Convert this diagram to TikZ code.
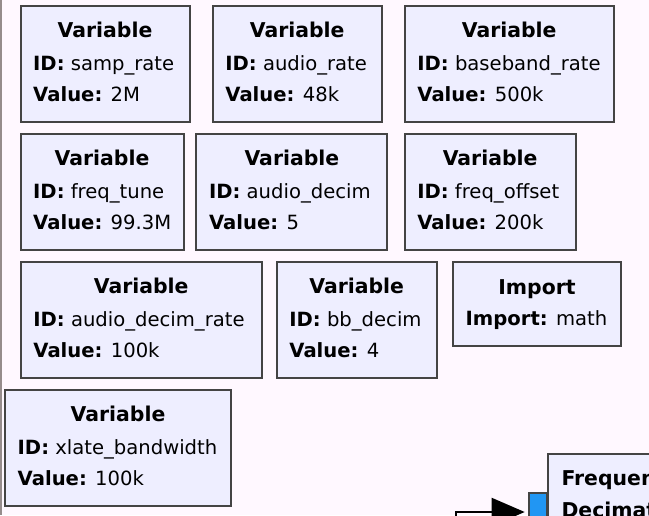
\documentclass[tikz,border=0pt]{standalone}
\usepackage{fontspec}
\setmainfont{DejaVu Sans}
\usetikzlibrary{arrows.meta}
\definecolor{canvas}{RGB}{255,248,255}
\definecolor{blockfill}{RGB}{238,238,255}
\definecolor{blockline}{RGB}{68,68,68}
\definecolor{portfill}{RGB}{33,150,243}
\definecolor{paneedge}{RGB}{150,140,140}

\begin{document}
\begin{tikzpicture}[x=1pt,y=-1pt]
    \tikzset{block/.style={draw=blockline,fill=blockfill,line width=2pt,anchor=north west,minimum height=116pt,inner sep=0pt,outer sep=0pt},
        title/.style={anchor=base,inner sep=0pt,font=\fontsize{20.4}{24}\selectfont\bfseries},
        param/.style={anchor=base west,inner sep=0pt,font=\fontsize{19.6}{24}\selectfont},
        wire/.style={line width=2pt,-{Triangle[length=33pt,width=28pt]},shorten >=4pt}}
    \fill[canvas] (0,0) rectangle (649,515);
    \useasboundingbox (0,0) rectangle (649,515);
    \draw[paneedge,line width=1.6pt] (0.8,0) -- (0.8,515);
    \node[block,minimum width=169pt] (samprate) at (20.5,5.7) {};
    \node[title] (samprate-t) at ([yshift=-32pt]samprate.north) {Variable};
    \node[param] (samprate-id) at ([xshift=12.5pt,yshift=-64.3pt]samprate.north west) {\textbf{ID:} samp\_rate};
    \node[param] (samprate-v) at ([xshift=12.5pt,yshift=-96pt]samprate.north west) {\textbf{Value:} 2M};
    \node[block,minimum width=169pt] (audiorate) at (212.7,5.7) {};
    \node[title] (audiorate-t) at ([yshift=-32pt]audiorate.north) {Variable};
    \node[param] (audiorate-id) at ([xshift=12.5pt,yshift=-64.3pt]audiorate.north west) {\textbf{ID:} audio\_rate};
    \node[param] (audiorate-v) at ([xshift=12.5pt,yshift=-96pt]audiorate.north west) {\textbf{Value:} 48k};
    \node[block,minimum width=209pt] (bbrate) at (404.7,5.7) {};
    \node[title] (bbrate-t) at ([yshift=-32pt]bbrate.north) {Variable};
    \node[param] (bbrate-id) at ([xshift=12.5pt,yshift=-64.3pt]bbrate.north west) {\textbf{ID:} baseband\_rate};
    \node[param] (bbrate-v) at ([xshift=12.5pt,yshift=-96pt]bbrate.north west) {\textbf{Value:} 500k};
    \node[block,minimum width=163pt] (freqtune) at (20.5,133.7) {};
    \node[title] (freqtune-t) at ([yshift=-32pt]freqtune.north) {Variable};
    \node[param] (freqtune-id) at ([xshift=12.5pt,yshift=-64.3pt]freqtune.north west) {\textbf{ID:} freq\_tune};
    \node[param] (freqtune-v) at ([xshift=12.5pt,yshift=-96pt]freqtune.north west) {\textbf{Value:} 99.3M};
    \node[block,minimum width=191pt] (audiodecim) at (196.4,133.7) {};
    \node[title] (audiodecim-t) at ([yshift=-32pt]audiodecim.north) {Variable};
    \node[param] (audiodecim-id) at ([xshift=12.5pt,yshift=-64.3pt]audiodecim.north west) {\textbf{ID:} audio\_decim};
    \node[param] (audiodecim-v) at ([xshift=12.5pt,yshift=-96pt]audiodecim.north west) {\textbf{Value:} 5};
    \node[block,minimum width=171pt] (freqoffset) at (404.6,133.7) {};
    \node[title] (freqoffset-t) at ([yshift=-32pt]freqoffset.north) {Variable};
    \node[param] (freqoffset-id) at ([xshift=12.5pt,yshift=-64.3pt]freqoffset.north west) {\textbf{ID:} freq\_offset};
    \node[param] (freqoffset-v) at ([xshift=12.5pt,yshift=-96pt]freqoffset.north west) {\textbf{Value:} 200k};
    \node[block,minimum width=241pt] (decimrate) at (20.7,261.7) {};
    \node[title] (decimrate-t) at ([yshift=-32pt]decimrate.north) {Variable};
    \node[param] (decimrate-id) at ([xshift=12.5pt,yshift=-64.3pt]decimrate.north west) {\textbf{ID:} audio\_decim\_rate};
    \node[param] (decimrate-v) at ([xshift=12.5pt,yshift=-96pt]decimrate.north west) {\textbf{Value:} 100k};
    \node[block,minimum width=160pt] (bbdecim) at (276.7,261.7) {};
    \node[title] (bbdecim-t) at ([yshift=-32pt]bbdecim.north) {Variable};
    \node[param] (bbdecim-id) at ([xshift=12.5pt,yshift=-64.3pt]bbdecim.north west) {\textbf{ID:} bb\_decim};
    \node[param] (bbdecim-v) at ([xshift=12.5pt,yshift=-96pt]bbdecim.north west) {\textbf{Value:} 4};
    \node[block,minimum width=168pt,minimum height=84pt] (import) at (453,261.7) {};
    \node[title] (import-t) at ([yshift=-32.3pt]import.north) {Import};
    \node[param] (import-id) at ([xshift=12.5pt,yshift=-64pt]import.north west) {\textbf{Import:} math};
    \node[block,minimum width=226pt] (xlatebw) at (5,389.7) {};
    \node[title] (xlatebw-t) at ([yshift=-32pt]xlatebw.north) {Variable};
    \node[param] (xlatebw-id) at ([xshift=12.5pt,yshift=-64.3pt]xlatebw.north west) {\textbf{ID:} xlate\_bandwidth};
    \node[param] (xlatebw-v) at ([xshift=12.5pt,yshift=-96pt]xlatebw.north west) {\textbf{Value:} 100k};
    \node[block,minimum width=200pt,minimum height=150pt] (xlating) at (548.3,453.7) {};
    \node[title,anchor=base west] (xlating-t) at ([xshift=13pt,yshift=-32pt]xlating.north west) {Frequen};
    \node[title,anchor=base west] (xlating-d) at ([xshift=13pt,yshift=-64pt]xlating.north west) {Decimat};
    \node[block,fill=portfill,minimum width=18pt,minimum height=38pt] (port) at (528.7,493) {};
    \coordinate (src) at (456,540);
    \draw[wire] (src) |- (port.west);
\end{tikzpicture}
\end{document}
